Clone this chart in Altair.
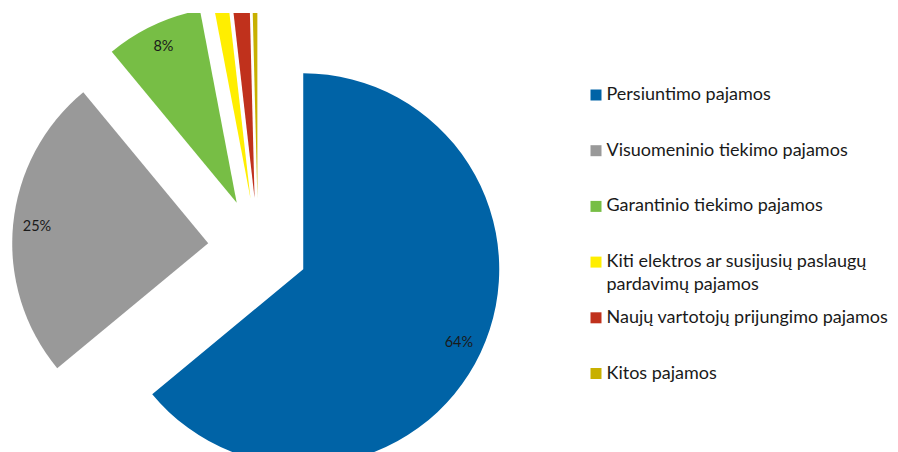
import altair as alt
import pandas as pd

categories = [
    "Persiuntimo pajamos",
    "Visuomeninio tiekimo pajamos",
    "Garantinio tiekimo pajamos",
    "Kiti elektros ar susijusių paslaugų\npardavimų pajamos",
    "Naujų vartotojų prijungimo pajamos",
    "Kitos pajamos",
]
values = [64.0, 25.0, 8.0, 1.2, 1.4, 0.4]
colors = ["#0063A6", "#999999", "#77BE45", "#FFEE00", "#C0311C", "#C8B000"]

df = pd.DataFrame({"cat": categories, "value": values, "order": list(range(len(values)))})

FONT = "Lato"
CX, CY = 250, 235      # pie centre (plot px)
R = 196                # radius
EXPLODE = 50           # explosion distance
LABEL_R = 172          # label distance from slice vertex
LEG_X, LEG_Y0, LEG_STEP = 588, 82, 55.7

color = alt.Color("cat:N", scale=alt.Scale(domain=categories, range=colors), legend=None)

base = alt.Chart(df).transform_joinaggregate(
    total="sum(value)"
).transform_window(
    cum="sum(value)", sort=[alt.SortField("order")], frame=[None, 0]
).transform_calculate(
    t1="datum.cum / datum.total * 2 * PI",
    t0="(datum.cum - datum.value) / datum.total * 2 * PI",
).transform_calculate(
    mid="(datum.t0 + datum.t1) / 2"
).transform_calculate(
    px=f"{CX} + {EXPLODE} * sin(datum.mid)",
    py=f"{CY} - {EXPLODE} * cos(datum.mid)",
)

arcs = base.mark_arc(radius=R, clip=True).encode(
    x=alt.X("px:Q", scale=None),
    y=alt.Y("py:Q", scale=None),
    theta=alt.Theta("t0:Q", scale=None),
    theta2="t1:Q",
    color=color,
)

labels = base.transform_filter("datum.value >= 5").transform_calculate(
    lx=f"datum.px + {LABEL_R} * sin(datum.mid)",
    ly=f"datum.py - {LABEL_R} * cos(datum.mid)",
    txt="format(datum.value / datum.total, '.0%')",
).mark_text(font=FONT, fontSize=14.5, color="#1a1a1a", align="center", baseline="middle").encode(
    x=alt.X("lx:Q", scale=None),
    y=alt.Y("ly:Q", scale=None),
    text="txt:N",
)

leg = alt.Chart(df).transform_calculate(
    lgx=f"{LEG_X}",
    lgy=f"{LEG_Y0} + {LEG_STEP} * datum.order",
    ltx=f"{LEG_X + 10.5}",
)

leg_sq = leg.mark_square(size=121, opacity=1).encode(
    x=alt.X("lgx:Q", scale=None),
    y=alt.Y("lgy:Q", scale=None),
    color=color,
)

leg_txt = leg.mark_text(font=FONT, fontSize=18, color="#1a1a1a", align="left",
                        baseline="middle", lineBreak="\n", lineHeight=23).encode(
    x=alt.X("ltx:Q", scale=None),
    y=alt.Y("lgy:Q", scale=None),
    text="cat:N",
)

chart = alt.layer(arcs, labels, leg_sq, leg_txt).properties(
    width=882, height=439,
    padding={"top": 5, "left": 0, "right": 0, "bottom": 0},
    autosize=alt.AutoSizeParams(type="none"),
).configure_view(stroke=None)

chart.save("out.html", embed_options={"renderer": "svg", "actions": False})
